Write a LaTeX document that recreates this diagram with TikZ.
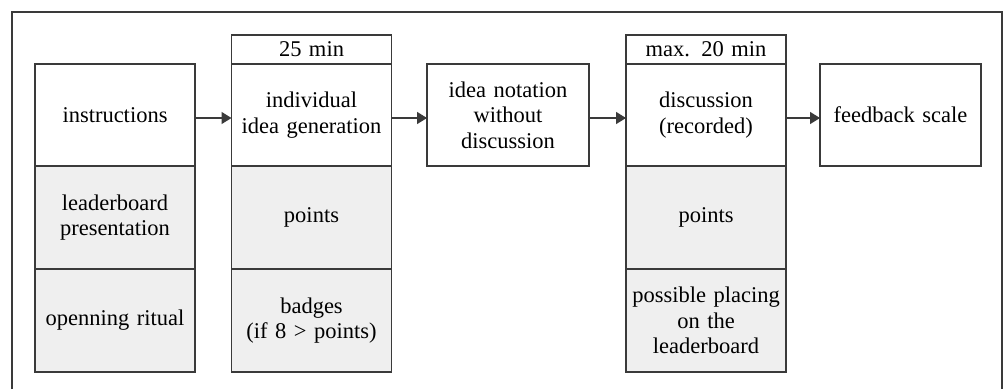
\documentclass[tikz,border=0pt]{standalone}
\usepackage{fontspec}
\setmainfont{Liberation Serif}
\usetikzlibrary{arrows.meta}
\definecolor{edge}{HTML}{3A3A3A}
\definecolor{shade}{HTML}{EFEFEF}
\tikzset{
  cell/.style={draw=edge, line width=1.5pt, inner sep=2pt, outer sep=0pt,
    align=center, text width=152pt, minimum width=160pt,
    font=\fontsize{22.5}{25.5}\selectfont},
  plain/.style={cell, fill=white, minimum height=102pt},
  grey/.style={cell, fill=shade, minimum height=103pt},
  head/.style={cell, fill=white, minimum height=29pt},
  flow/.style={draw=edge, line width=1.5pt, -{Triangle[length=10pt,width=12pt]}},
}
\begin{document}
\begin{tikzpicture}[x=1pt,y=-1pt]
  \useasboundingbox (0,0) rectangle (1003,389);
  % outer frame, open at the bottom
  \draw[edge, line width=1.5pt] (12,389) -- (12,12) -- (1002,12) -- (1002,389);

  % column 1
  \node[plain] (instr) at (115,115) {instructions};
  \node[grey, anchor=north] (leader) at (instr.south) {leaderboard\\presentation};
  \node[grey, anchor=north] (ritual) at (leader.south) {openning ritual};

  % column 2
  \node[plain] (idea) at (311.5,115) {individual\\idea generation};
  \node[head, anchor=south] (t25) at (idea.north) {25 min};
  \node[grey, anchor=north] (pts1) at (idea.south) {points};
  \node[grey, anchor=north] (badges) at (pts1.south) {badges\\(if 8 > points)};

  % column 3
  \node[plain, minimum width=162pt] (notation) at (508,115) {idea notation\\without\\discussion};

  % column 4
  \node[plain] (disc) at (706,115) {discussion\\(recorded)};
  \node[head, anchor=south] (t20) at (disc.north) {max. 20 min};
  \node[grey, anchor=north] (pts2) at (disc.south) {points};
  \node[grey, anchor=north] (placing) at (pts2.south) {possible placing\\on the\\leaderboard};

  % column 5
  \node[plain, minimum width=161pt] (feedback) at (900.5,115) {feedback scale};

  % connectors
  \draw[flow] (instr.east |- 0,118) -- (idea.west |- 0,118);
  \draw[flow] (idea.east |- 0,118) -- (notation.west |- 0,118);
  \draw[flow] (notation.east |- 0,118) -- (disc.west |- 0,118);
  \draw[flow] (disc.east |- 0,118) -- (feedback.west |- 0,118);
\end{tikzpicture}
\end{document}
